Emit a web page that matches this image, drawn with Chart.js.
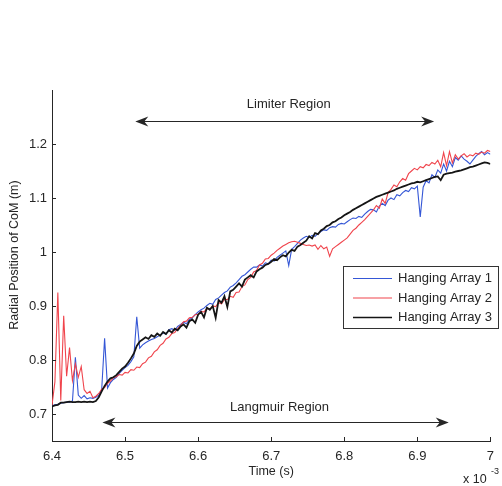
<!DOCTYPE html>
<html>
<head>
<meta charset="utf-8">
<script src="https://cdn.jsdelivr.net/npm/chart.js@4.4.0/dist/chart.umd.min.js"></script>
<style>
  html, body { margin: 0; padding: 0; background: #fff; }
  canvas { display: block; }
</style>
</head>
<body>
<canvas id="comChart" width="502" height="486"></canvas>
<script>
// Sampling of the three traces (time in units of 10^-3 s)
const sampleStart = 6.4;
const sampleStep = 0.004;

// Radial position of the centre of mass (m) for each hanging array
const array1 = [
  0.715, 0.717, 0.718, 0.720, 0.721, 0.722, 0.722, 0.724, 0.805, 0.735, 0.729, 0.734, 0.728, 0.730, 0.729, 0.731,
  0.735, 0.745, 0.840, 0.748, 0.758, 0.764, 0.768, 0.775, 0.781, 0.786, 0.790, 0.797, 0.806, 0.880, 0.822,
  0.828, 0.832, 0.835, 0.838, 0.840, 0.843, 0.846, 0.850, 0.848, 0.856, 0.858, 0.855, 0.862,
  0.866, 0.870, 0.867, 0.875, 0.878, 0.884, 0.889, 0.893, 0.896, 0.901, 0.905, 0.903, 0.912, 0.915, 0.920, 0.925, 0.928, 0.935,
  0.938, 0.943, 0.949, 0.955, 0.958, 0.963, 0.968, 0.972, 0.972, 0.976, 0.974, 0.980, 0.978,
  0.985, 0.983, 0.990, 0.994, 0.998, 1.002, 0.975, 1.005, 1.010, 1.016, 1.022, 1.026, 1.029,
  1.027, 1.031, 1.029, 1.034, 1.038, 1.041, 1.040, 1.045, 1.047, 1.046, 1.051, 1.053,
  1.052, 1.056, 1.060, 1.063, 1.062, 1.066, 1.064, 1.070, 1.075, 1.079, 1.078, 1.074, 1.085,
  1.090, 1.086, 1.096, 1.100, 1.097, 1.106, 1.104, 1.110, 1.114, 1.112, 1.119, 1.117, 1.122,
  1.065, 1.120, 1.132, 1.128, 1.143, 1.138, 1.152, 1.146, 1.163, 1.150, 1.168, 1.158, 1.175,
  1.170, 1.178, 1.172, 1.168, 1.163, 1.170, 1.177, 1.182, 1.186, 1.180, 1.184, 1.181
];
const array2 = [
  0.716, 0.760, 0.925, 0.725, 0.882, 0.770, 0.823, 0.762, 0.793, 0.768, 0.788, 0.745, 0.738, 0.742, 0.730, 0.733,
  0.738, 0.746, 0.749, 0.757, 0.761, 0.767, 0.769, 0.773, 0.772, 0.777, 0.776, 0.782, 0.781, 0.787, 0.786,
  0.793, 0.796, 0.804, 0.807, 0.815, 0.819, 0.827, 0.831, 0.839, 0.842, 0.849, 0.851, 0.858,
  0.864, 0.871, 0.872, 0.878, 0.879, 0.884, 0.885, 0.890, 0.889, 0.895, 0.894, 0.900, 0.899, 0.906, 0.904, 0.912,
  0.912, 0.918, 0.916, 0.925, 0.926, 0.936, 0.939, 0.949, 0.953, 0.963, 0.966, 0.976, 0.979, 0.987, 0.988,
  0.994, 0.998, 1.003, 1.007, 1.011, 1.014, 1.017, 1.019, 1.020, 1.018, 1.016, 1.014, 1.012,
  1.013, 1.011, 1.013, 1.005, 1.012, 1.006, 1.009, 0.992, 1.006, 1.010, 1.014, 1.018,
  1.022, 1.026, 1.033, 1.040, 1.044, 1.050, 1.055, 1.060, 1.066, 1.072, 1.078, 1.086, 1.081,
  1.098, 1.090, 1.110, 1.116, 1.124, 1.121, 1.130, 1.136, 1.133, 1.145, 1.150, 1.155, 1.152,
  1.158, 1.156, 1.162, 1.160, 1.166, 1.163, 1.170, 1.158, 1.184, 1.160, 1.186, 1.165, 1.180,
  1.172, 1.178, 1.182, 1.176, 1.180, 1.178, 1.183, 1.181, 1.185, 1.183, 1.188, 1.186
];
const array3 = [
  0.714, 0.716, 0.717, 0.721, 0.721, 0.722, 0.723, 0.722, 0.722, 0.723, 0.722, 0.723, 0.722, 0.723, 0.722, 0.724,
  0.731, 0.742, 0.752, 0.760, 0.766, 0.768, 0.772, 0.778, 0.784, 0.788, 0.795, 0.803, 0.812, 0.826, 0.834,
  0.838, 0.842, 0.839, 0.846, 0.843, 0.849, 0.845, 0.852, 0.848, 0.855, 0.851, 0.858, 0.855,
  0.862, 0.866, 0.860, 0.872, 0.875, 0.869, 0.884, 0.889, 0.879, 0.897, 0.893, 0.900, 0.878, 0.911, 0.906, 0.918, 0.898, 0.927,
  0.930, 0.936, 0.942, 0.936, 0.949, 0.953, 0.957, 0.953, 0.964, 0.968, 0.971, 0.976, 0.978,
  0.982, 0.987, 0.985, 0.990, 0.994, 0.992, 0.999, 1.004, 1.002, 1.010, 1.013, 1.017, 1.021,
  1.029, 1.025, 1.035, 1.033, 1.040, 1.043, 1.048, 1.050, 1.055, 1.057, 1.061, 1.064,
  1.068, 1.071, 1.074, 1.078, 1.081, 1.084, 1.087, 1.090, 1.093, 1.096, 1.099, 1.102, 1.104,
  1.106, 1.108, 1.110, 1.112, 1.114, 1.117, 1.119, 1.121, 1.123, 1.125, 1.127, 1.128, 1.130,
  1.129, 1.131, 1.133, 1.135, 1.137, 1.139, 1.140, 1.133, 1.143, 1.145, 1.146, 1.147, 1.149,
  1.150, 1.151, 1.153, 1.155, 1.157, 1.158, 1.160, 1.162, 1.164, 1.166, 1.165, 1.163
];

const seriesNames = ["Hanging Array 1", "Hanging Array 2", "Hanging Array 3"];
const seriesColors = ["#3557d6", "#f0444c", "#151515"];
const xTicks = [6.4, 6.5, 6.6, 6.7, 6.8, 6.9, 7.0];
const yTicks = [0.7, 0.8, 0.9, 1.0, 1.1, 1.2];

// Region annotations (arrow span in time, height in metres)
const regionMarks = [
  { text: "Limiter Region", from: 6.514, to: 6.923, at: 1.243, labelAt: 1.274 },
  { text: "Langmuir Region", from: 6.469, to: 6.943, at: 0.685, labelAt: 0.713 }
];

const FONT = "'Liberation Sans', Arial, Helvetica, sans-serif";
const INK = "#262626";

function toPoints(values) {
  return values.map((v, i) => ({ x: sampleStart + sampleStep * i, y: v }));
}

function fmt(v) {
  return String(+v.toFixed(1));
}

function drawHead(ctx, x, y, dir) {
  ctx.beginPath();
  ctx.moveTo(x, y);
  ctx.lineTo(x - dir * 13, y - 5);
  ctx.lineTo(x - dir * 9, y);
  ctx.lineTo(x - dir * 13, y + 5);
  ctx.closePath();
  ctx.fill();
}

const decorations = {
  id: "decorations",
  afterDraw(chart) {
    const { ctx, chartArea: area, scales: { x, y } } = chart;
    ctx.save();
    ctx.strokeStyle = INK;
    ctx.fillStyle = INK;
    ctx.lineWidth = 1;

    // inward tick marks
    ctx.beginPath();
    xTicks.forEach((t) => {
      const px = Math.round(x.getPixelForValue(t)) + 0.5;
      ctx.moveTo(px, area.bottom);
      ctx.lineTo(px, area.bottom - 4);
    });
    yTicks.forEach((t) => {
      const py = Math.round(y.getPixelForValue(t)) + 0.5;
      ctx.moveTo(area.left, py);
      ctx.lineTo(area.left + 4, py);
    });
    ctx.stroke();

    // region arrows and labels
    ctx.font = "13px " + FONT;
    ctx.textAlign = "center";
    ctx.textBaseline = "middle";
    regionMarks.forEach((r) => {
      const x1 = x.getPixelForValue(r.from);
      const x2 = x.getPixelForValue(r.to);
      const py = Math.round(y.getPixelForValue(r.at)) + 0.5;
      ctx.beginPath();
      ctx.moveTo(x1 + 8, py);
      ctx.lineTo(x2 - 8, py);
      ctx.stroke();
      drawHead(ctx, x1, py, -1);
      drawHead(ctx, x2, py, 1);
      ctx.fillText(r.text, (x1 + x2) / 2 + 4, y.getPixelForValue(r.labelAt));
    });

    // y axis title
    ctx.save();
    ctx.translate(15, 255);
    ctx.rotate(-Math.PI / 2);
    ctx.font = "12.5px " + FONT;
    ctx.fillText("Radial Position of CoM (m)", 0, 0);
    ctx.restore();

    // exponent of the time axis
    ctx.textAlign = "left";
    ctx.textBaseline = "alphabetic";
    ctx.font = "12.5px " + FONT;
    ctx.fillText("x 10", 463, 483);
    ctx.font = "9px " + FONT;
    ctx.fillText("-3", 491, 474);

    // legend box
    const box = { left: 343.5, top: 266.5, width: 155, height: 62 };
    ctx.fillStyle = "#fff";
    ctx.fillRect(box.left, box.top, box.width, box.height);
    ctx.strokeStyle = "#333";
    ctx.strokeRect(box.left, box.top, box.width, box.height);
    ctx.font = "13px " + FONT;
    ctx.textBaseline = "middle";
    chart.data.datasets.forEach((ds, i) => {
      const rowY = box.top + 12 + i * 19.5;
      ctx.strokeStyle = ds.borderColor;
      ctx.lineWidth = Math.min(ds.borderWidth, 1.3);
      ctx.beginPath();
      ctx.moveTo(353, rowY);
      ctx.lineTo(392, rowY);
      ctx.stroke();
      ctx.fillStyle = INK;
      ctx.fillText(ds.label, 398, rowY);
    });
    ctx.restore();
  }
};

const traces = [array1, array2, array3];

new Chart(document.getElementById("comChart"), {
  type: "line",
  data: {
    datasets: traces.map((values, i) => ({
      label: seriesNames[i],
      data: toPoints(values),
      borderColor: seriesColors[i],
      borderWidth: i === 2 ? 1.8 : 1.1,
      pointRadius: 0,
      tension: 0,
      fill: false,
      order: 3 - i
    }))
  },
  options: {
    responsive: false,
    animation: false,
    events: [],
    layout: { padding: { top: 90, right: 3, left: 0, bottom: 0 } },
    plugins: {
      legend: { display: false },
      tooltip: { enabled: false },
      title: { display: false }
    },
    scales: {
      x: {
        type: "linear",
        min: 6.4,
        max: 7.0,
        afterBuildTicks: (s) => { s.ticks = xTicks.map((v) => ({ value: v })); },
        afterFit: (s) => { s.height = 45; },
        grid: { display: false, drawTicks: false },
        border: { display: true, color: INK, width: 1 },
        ticks: {
          callback: (v) => fmt(v),
          color: INK,
          padding: 8,
          maxRotation: 0,
          font: { family: FONT, size: 13 }
        },
        title: {
          display: true,
          text: "Time (s)",
          color: INK,
          padding: { top: 0, bottom: 7 },
          font: { family: FONT, size: 12.5 }
        }
      },
      y: {
        type: "linear",
        min: 0.65,
        max: 1.3,
        afterBuildTicks: (s) => { s.ticks = yTicks.map((v) => ({ value: v })); },
        afterFit: (s) => { s.width = 52; },
        grid: { display: false, drawTicks: false },
        border: { display: true, color: INK, width: 1 },
        ticks: {
          callback: (v) => fmt(v),
          color: INK,
          padding: 5,
          font: { family: FONT, size: 13 }
        }
      }
    }
  },
  plugins: [decorations]
});
</script>
</body>
</html>
